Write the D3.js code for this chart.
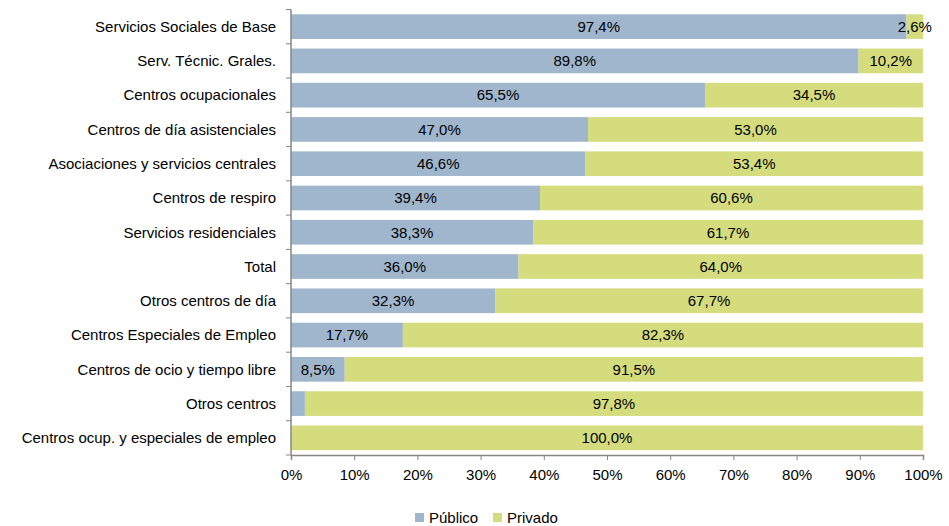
<!DOCTYPE html>
<html><head><meta charset="utf-8">
<script src="https://cdn.jsdelivr.net/npm/d3@7"></script>
<style>body{margin:0;background:#fff;} text{font-family:"Liberation Sans",Arial,sans-serif;}</style>
</head><body><svg id="c" width="949" height="526"></svg>
<script>
const categories = ["Servicios Sociales de Base","Serv. Técnic. Grales.","Centros ocupacionales","Centros de día asistenciales","Asociaciones y servicios centrales","Centros de respiro","Servicios residenciales","Total","Otros centros de día","Centros Especiales de Empleo","Centros de ocio y tiempo libre","Otros centros","Centros ocup. y especiales de empleo"];
const publico = [97.4,89.8,65.5,47.0,46.6,39.4,38.3,36.0,32.3,17.7,8.5,2.2,0.0];
const privado = [2.6,10.2,34.5,53.0,53.4,60.6,61.7,64.0,67.7,82.3,91.5,97.8,100.0];
const showPublicoLabel = [true,true,true,true,true,true,true,true,true,true,true,false,false];
const ticks = [0,10,20,30,40,50,60,70,80,90,100];
const seriesNames = ["Público","Privado"];
const colors = ["#9fb6cd","#d4dc7d"];

const FS = 15;
const svg = d3.select("#c");
const m = {l:291, r:923, t:9.5, b:455};
const x = d3.scaleLinear().domain([0,100]).range([m.l,m.r]);
const yb = d3.scaleBand().domain(categories).range([m.t,m.b]);
const y = d3.scaleBand().domain(categories).range([m.t,m.b]).paddingInner(0.28).paddingOuter(0.14);

const g = svg.append("g");
const fmt = v => v.toFixed(1).replace(".",",")+"%";
categories.forEach((c,i)=>{
  const x0 = x(0), x1 = x(publico[i]), x2 = x(publico[i]+privado[i]);
  if (publico[i]>0) g.append("rect").attr("x",x0).attr("y",y(c)).attr("width",x1-x0).attr("height",y.bandwidth()).attr("fill",colors[0]);
  g.append("rect").attr("x",x1).attr("y",y(c)).attr("width",x2-x1).attr("height",y.bandwidth()).attr("fill",colors[1]);
  if (showPublicoLabel[i]) g.append("text").attr("x",(x0+x1)/2).attr("y",y(c)+y.bandwidth()/2).attr("dy","0.35em").attr("text-anchor","middle").attr("font-size",FS).attr("fill","#000").text(fmt(publico[i]));
  g.append("text").attr("x",(x1+x2)/2).attr("y",y(c)+y.bandwidth()/2).attr("dy","0.35em").attr("text-anchor","middle").attr("font-size",FS).attr("fill","#000").text(fmt(privado[i]));
});

// y axis
const ya = svg.append("g");
ya.append("line").attr("x1",m.l).attr("x2",m.l).attr("y1",m.t).attr("y2",m.b).attr("stroke","#868686").attr("stroke-width",1.5);
d3.range(categories.length+1).forEach(k=>{
  const yy = m.t + k*yb.step();
  ya.append("line").attr("x1",m.l-5).attr("x2",m.l).attr("y1",yy).attr("y2",yy).attr("stroke","#868686");
});
categories.forEach(c=>{
  ya.append("text").attr("x",m.l-15).attr("y",yb(c)+yb.bandwidth()/2).attr("dy","0.35em").attr("text-anchor","end").attr("font-size",FS).attr("fill","#000").text(c);
});

// x axis
const xa = svg.append("g").attr("transform",`translate(0,${m.b})`)
  .call(d3.axisBottom(x).tickValues(ticks).tickFormat(d=>d+"%").tickSize(5).tickPadding(9));
xa.select(".domain").attr("stroke","#868686").attr("stroke-width",1.5);
xa.selectAll(".tick line").attr("stroke","#868686");
xa.selectAll("text").attr("font-size",FS).attr("fill","#000").attr("font-family","Liberation Sans, Arial, sans-serif");

// legend
const lg = svg.append("g");
const litems = [{n:seriesNames[0],c:colors[0],x:415},{n:seriesNames[1],c:colors[1],x:493}];
litems.forEach(it=>{
  lg.append("rect").attr("x",it.x).attr("y",513).attr("width",9).attr("height",9).attr("fill",it.c);
  lg.append("text").attr("x",it.x+14).attr("y",518).attr("dy","0.35em").attr("font-size",FS).attr("fill","#000").text(it.n);
});
</script></body></html>
